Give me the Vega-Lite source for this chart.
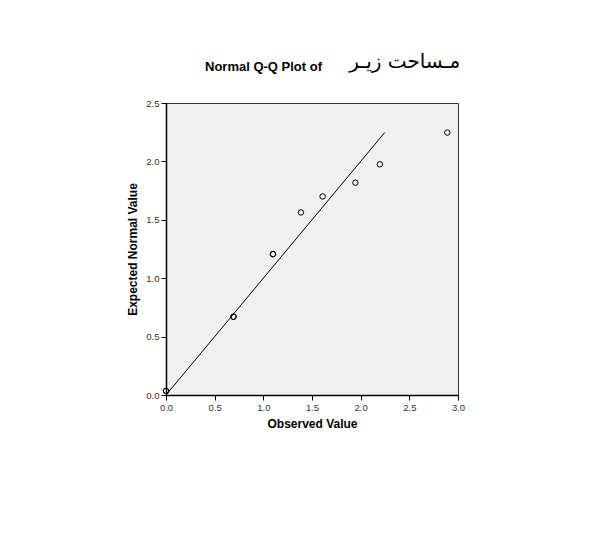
{
  "$schema": "https://vega.github.io/schema/vega-lite/v6.json",
  "background": "white",
  "padding": {"left": 126, "top": 52, "right": 10, "bottom": 10},
  "title": {
    "text": "مـساحت زیـر",
    "font": "DejaVu Sans",
    "fontSize": 20,
    "fontWeight": "normal",
    "color": "black",
    "anchor": "start",
    "frame": "bounds",
    "align": "left",
    "dx": 223,
    "offset": -11.5
  },
  "datasets": {
    "points": [
      {"observed": 0.0, "expected": 0.035},
      {"observed": 0.0, "expected": 0.035},
      {"observed": 0.693, "expected": 0.67},
      {"observed": 0.693, "expected": 0.67},
      {"observed": 1.099, "expected": 1.206},
      {"observed": 1.099, "expected": 1.206},
      {"observed": 1.386, "expected": 1.563},
      {"observed": 1.609, "expected": 1.70},
      {"observed": 1.946, "expected": 1.818},
      {"observed": 2.197, "expected": 1.975},
      {"observed": 2.89, "expected": 2.247}
    ],
    "line": [
      {"observed": 0.0, "expected": 0.0},
      {"observed": 2.247, "expected": 2.247}
    ]
  },
  "vconcat": [
    {
      "title": {
        "text": "Normal Q-Q Plot of",
        "font": "Liberation Sans",
        "fontSize": 13,
        "fontWeight": "bold",
        "color": "black",
        "anchor": "start",
        "frame": "group",
        "align": "left",
        "dx": 39,
        "dy": -14,
        "offset": 10
      },
      "width": 292,
      "height": 292,
      "encoding": {
        "x": {
          "field": "observed",
          "type": "quantitative",
          "scale": {"domain": [0, 3], "nice": false, "zero": false},
          "axis": {
            "title": "Observed Value",
            "values": [0, 0.5, 1, 1.5, 2, 2.5, 3],
            "format": ".1f",
            "grid": false,
            "labelFlush": false,
            "labelOverlap": false,
            "domainColor": "black",
            "domainWidth": 1.5,
            "tickColor": "black",
            "tickSize": 5,
            "tickWidth": 1,
            "labelFont": "Liberation Sans",
            "labelFontSize": 9.5,
            "labelColor": "#333333",
            "labelPadding": 2,
            "titleFont": "Liberation Sans",
            "titleFontSize": 12,
            "titleFontWeight": "bold",
            "titleColor": "black",
            "titlePadding": 7
          }
        },
        "y": {
          "field": "expected",
          "type": "quantitative",
          "scale": {"domain": [0, 2.5], "nice": false, "zero": false},
          "axis": {
            "title": "Expected Normal Value",
            "values": [0, 0.5, 1, 1.5, 2, 2.5],
            "format": ".1f",
            "grid": false,
            "labelFlush": false,
            "labelOverlap": false,
            "domainColor": "black",
            "domainWidth": 1.5,
            "tickColor": "black",
            "tickSize": 5,
            "tickWidth": 1,
            "labelFont": "Liberation Sans",
            "labelFontSize": 9.5,
            "labelColor": "#333333",
            "labelPadding": 2,
            "titleFont": "Liberation Sans",
            "titleFontSize": 12,
            "titleFontWeight": "bold",
            "titleColor": "black",
            "titlePadding": 6
          }
        }
      },
      "layer": [
        {
          "data": {"name": "line"},
          "mark": {"type": "line", "color": "black", "strokeWidth": 1}
        },
        {
          "data": {"name": "points"},
          "mark": {
            "type": "point",
            "shape": "circle",
            "filled": false,
            "color": "black",
            "size": 30,
            "strokeWidth": 1,
            "opacity": 1
          }
        }
      ]
    }
  ],
  "config": {
    "view": {"fill": "#f0f0f0", "stroke": "#333333", "strokeWidth": 1}
  }
}
